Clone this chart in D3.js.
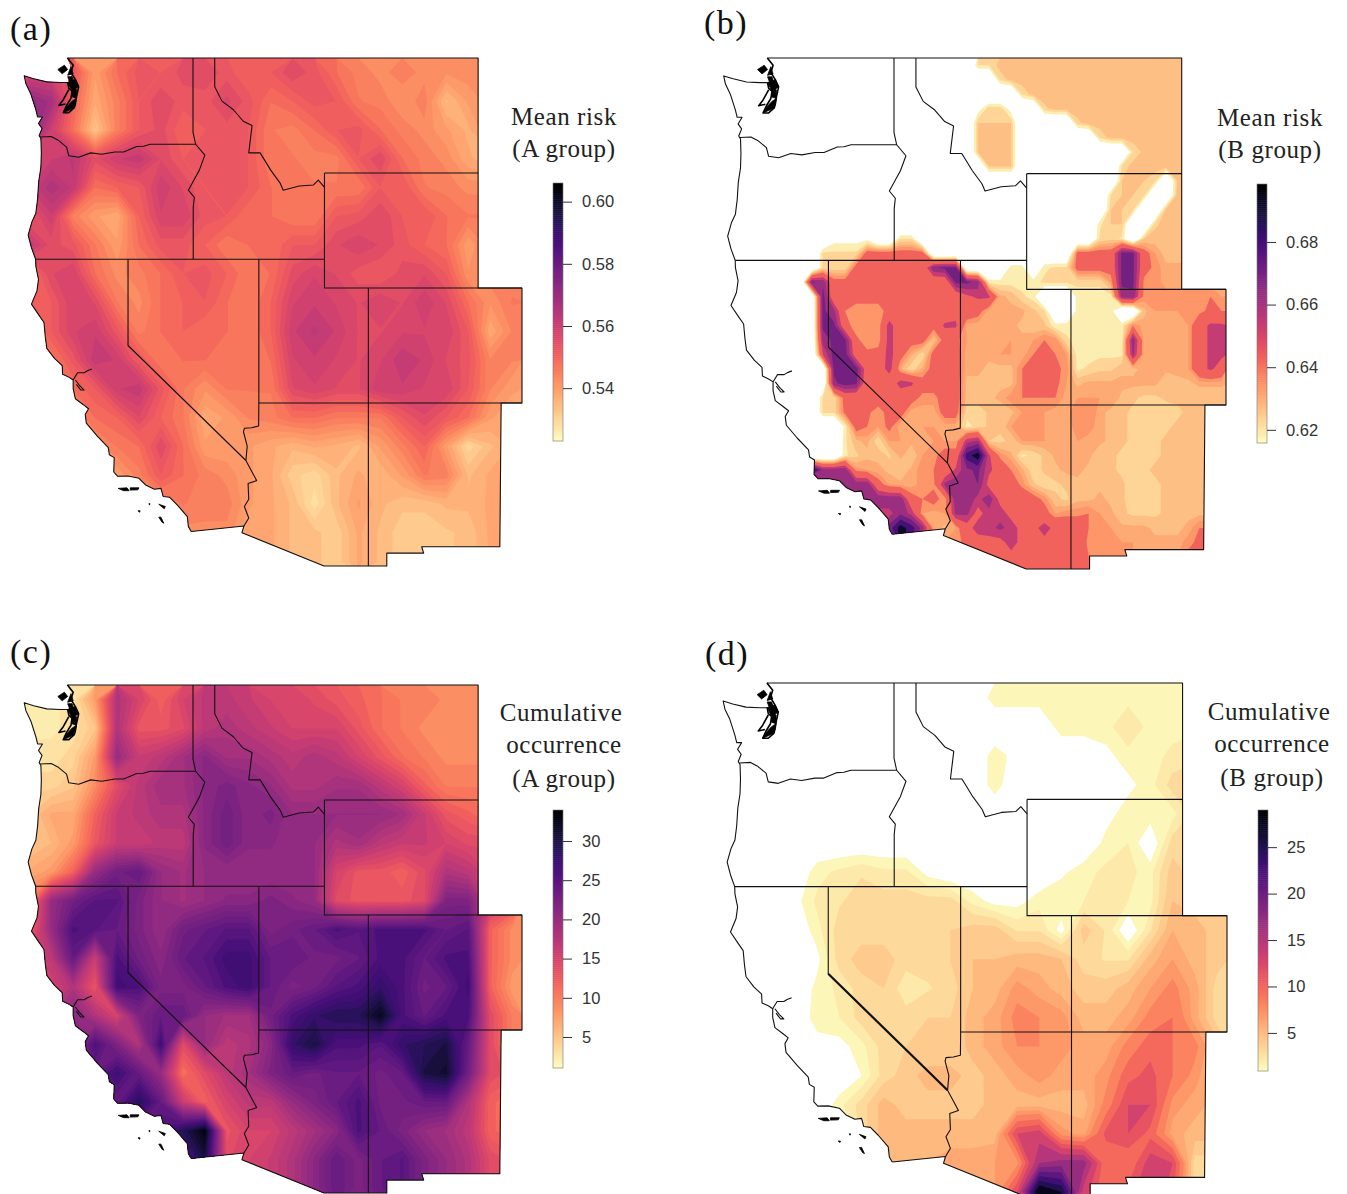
<!DOCTYPE html>
<html>
<head>
<meta charset="utf-8">
<script src="https://cdn.jsdelivr.net/npm/d3@7"></script>
<style>
  html, body { margin: 0; padding: 0; background: #fff; }
</style>
</head>
<body>
<div id="chart"></div>
<script>
// grid cell centres, one value per degree
var lons = d3.range(-124.5, -102, 1);
var lats = d3.range(48.5, 31, -1);
// half degree grid for panel (b)
var lonsFine = d3.range(-124.75, -102, 0.5);
var latsFine = d3.range(48.75, 31, -0.5);

// mean risk, A group
var riskA = [
[.558,.558,.553,.540,.548,.553,.552,.555,.556,.553,.550,.552,.556,.553,.548,.545,.543,.545,.543,.542,.543,.543,.543],
[.572,.568,.550,.538,.545,.552,.556,.553,.553,.557,.553,.548,.550,.553,.552,.546,.545,.542,.545,.535,.540,.543,.543],
[.575,.560,.548,.533,.545,.552,.555,.550,.552,.553,.552,.546,.545,.548,.552,.553,.548,.545,.543,.540,.537,.542,.542],
[.556,.560,.563,.555,.560,.562,.556,.552,.553,.553,.552,.546,.546,.545,.545,.552,.556,.548,.545,.543,.538,.536,.540],
[.560,.566,.562,.548,.550,.552,.560,.556,.552,.553,.552,.548,.546,.546,.546,.546,.552,.552,.546,.545,.543,.543,.543],
[.553,.560,.545,.540,.538,.550,.558,.558,.553,.552,.548,.548,.546,.546,.552,.553,.556,.552,.552,.548,.546,.546,.546],
[.562,.555,.553,.546,.540,.548,.553,.553,.550,.546,.548,.548,.552,.552,.556,.558,.556,.553,.550,.548,.540,.545,.545],
[.548,.556,.558,.548,.543,.545,.548,.552,.553,.550,.546,.548,.555,.558,.556,.553,.552,.555,.556,.552,.542,.545,.545],
[.550,.552,.558,.556,.546,.543,.548,.550,.552,.548,.546,.550,.558,.560,.558,.556,.558,.556,.560,.556,.548,.542,.546],
[.546,.552,.558,.560,.553,.545,.548,.550,.548,.548,.546,.550,.560,.563,.560,.556,.556,.558,.558,.558,.552,.538,.544],
[.546,.546,.553,.562,.560,.552,.546,.548,.548,.546,.546,.548,.558,.560,.558,.556,.558,.562,.560,.556,.553,.544,.544],
[.540,.545,.548,.552,.560,.562,.553,.546,.542,.546,.546,.546,.556,.558,.556,.556,.560,.560,.558,.558,.552,.544,.540],
[.540,.540,.543,.548,.550,.556,.550,.546,.538,.540,.544,.545,.548,.548,.546,.546,.546,.552,.556,.552,.548,.540,.538],
[.540,.540,.540,.543,.546,.548,.556,.548,.540,.540,.540,.538,.536,.538,.537,.535,.540,.545,.550,.540,.530,.535,.538],
[.540,.540,.540,.540,.540,.545,.552,.548,.545,.543,.540,.538,.532,.530,.535,.538,.536,.540,.546,.545,.535,.538,.538],
[.540,.540,.540,.540,.540,.540,.543,.546,.545,.545,.540,.538,.535,.528,.535,.540,.536,.534,.534,.536,.536,.538,.538],
[.540,.540,.540,.540,.540,.540,.540,.543,.543,.543,.538,.538,.535,.534,.532,.538,.535,.532,.532,.533,.534,.538,.538],
[.540,.540,.540,.540,.540,.540,.540,.543,.543,.543,.538,.538,.535,.534,.532,.538,.535,.532,.532,.533,.534,.538,.538]
];

// mean risk, B group, in thousandths, half degree. First number of a row is the
// column it starts at, anything not listed has no colour on the map (600)
var riskBRows = [
[23,621,621,627,627,627,627,627,627,627,627,627,627,627,627,627,627,627,627,627,627,627],
[25,622,627,627,627,627,627,627,627,627,627,627,627,627,627,627,627,627,627,627],
[27,622,627,627,627,627,627,627,627,627,627,627,627,627,627,627,627,627],
[23,612,624,624,612,600,600,624,627,627,627,627,627,627,627,627,627,627,627,627,627,627],
[23,625,625,625,625,600,600,600,600,600,624,627,627,627,627,627,627,627,627,627,627,627],
[23,625,625,625,625,600,600,600,600,600,600,600,622,627,627,627,627,627,627,627,627,627],
[23,625,625,625,625,600,600,600,600,600,600,600,600,600,600,622,626,626,626,626,626,626],
[24,625,625,625,600,600,600,600,600,600,600,600,600,622,627,627,627,627,627,627,627],
[36,625,625,625,622,600,625,627,627],
[35,622,625,625,622,600,600,627,627,627],
[35,625,625,622,600,600,627,627,627,627],
[34,620,625,625,600,600,624,627,627,627,627],
[10,613,613,613,613,600,600,621,621,600,600,600,600,600,600,600,600,600,600,600,600,600,600,600,600,622,624,620,600,625,627,627,627,627,627],
[9,622,622,622,622,640,640,640,640,640,640,600,600,600,600,600,600,600,600,600,600,600,600,600,640,640,640,640,668,668,640,632,627,627,627,627],
[9,622,622,622,640,640,640,640,640,640,640,665,668,668,600,600,600,600,619,619,600,620,622,622,640,640,640,640,668,668,640,634,630,630,630,630],
[8,668,664,640,640,640,640,640,640,640,640,640,640,640,668,668,664,619,619,619,619,619,622,622,622,622,622,622,632,668,668,634,634,630,630,630,630,630,630],
[9,670,640,640,640,640,640,640,640,640,640,640,640,640,648,652,652,630,628,622,619,600,600,600,619,619,619,619,662,664,634,634,634,634,634,634,636,632],
[9,668,660,636,632,632,632,640,640,640,640,640,640,646,645,640,630,630,630,630,626,622,600,600,619,619,619,619,600,600,628,632,632,632,632,634,638,636],
[9,668,668,640,632,632,632,655,640,640,640,640,652,652,630,630,630,630,630,628,626,626,618,619,620,620,620,619,619,636,630,630,630,630,632,645,652,652],
[9,662,668,668,638,632,632,655,640,640,640,626,640,638,632,632,632,630,632,630,632,636,634,622,619,619,619,619,619,664,630,630,630,630,632,645,652,652],
[9,650,670,670,642,638,640,655,640,630,622,640,640,640,630,630,630,632,632,630,636,636,636,632,619,619,620,620,620,660,630,630,630,630,632,645,652,652],
[9,600,668,670,670,642,642,655,630,622,630,640,640,640,630,630,628,628,628,636,636,636,638,634,620,622,624,624,628,628,630,630,630,630,632,645,652,645],
[10,664,670,668,640,640,640,655,652,640,640,640,640,628,628,628,628,628,636,638,638,638,632,628,630,630,630,630,630,630,630,626,628,628,630,630,630],
[9,622,622,640,640,638,642,640,640,640,634,634,640,640,628,628,628,630,634,636,636,636,636,630,632,632,632,632,628,626,624,624,626,626,626,626,626,626],
[9,622,622,638,638,638,632,640,640,630,630,630,640,640,622,622,626,626,628,632,632,632,630,630,636,636,630,628,626,624,622,622,622,624,626,626,626,626],
[11,618,640,636,632,638,630,630,632,632,630,630,620,622,626,626,632,632,632,632,630,630,634,634,630,628,626,624,622,624,624,626,626,626,626,626],
[11,620,628,630,622,632,632,630,630,632,632,632,655,660,625,624,626,632,632,632,630,630,632,630,630,628,626,624,622,624,626,628,628,628,628,628],
[11,620,624,628,628,624,630,626,632,634,640,640,680,692,652,634,630,620,622,626,630,630,630,630,626,626,624,622,622,624,626,628,628,628,628,628],
[7,690,690,664,664,664,634,632,630,628,626,630,634,636,640,652,664,668,652,645,636,630,622,626,628,630,630,628,626,626,624,624,624,626,628,628,628,628,628,628],
[9,664,664,664,664,664,640,632,630,630,634,634,660,664,664,666,646,646,642,634,626,622,624,626,628,628,628,628,626,622,622,624,626,628,628,628,628,628,628],
[11,664,664,664,664,664,640,636,640,632,664,664,655,664,646,646,644,640,634,626,624,628,628,630,628,626,622,622,624,626,628,628,628,628,628,628],
[13,655,655,664,655,632,630,632,660,660,646,655,655,646,646,644,640,632,634,634,636,632,630,626,624,624,624,626,628,628,628,628,628,628],
[14,670,690,680,662,632,628,632,645,655,655,660,655,646,646,655,646,644,644,636,634,632,630,630,630,628,628,628,630,636,636,636,636],
[15,690,680,640,632,632,632,640,644,646,646,655,646,646,646,646,646,644,634,634,632,632,632,630,630,630,630,634,638,638,638,638],
[19,632,632,640,644,646,646,646,646,646,646,646,644,640,636,636,634,634,632,630,630,630,632,638,638,638,638,638],
[19,632,632,640,644,646,646,646,646,646,646,646,644,640,636,636,634,634,632,630,630,630,632,638,638,638,638,638]
];

// cumulative occurrence, A group
var occA = [
[2.5,2.5,3,8,18,15,12,15,17,17,16,15,15,14,13,12,11,10,10,9,9,9,9],
[2.5,2.5,3,5,18,13,13,14,17,18,17,16,15,15,15,13,11,10,9,9,9,9,9],
[3,3,4,8,20,16,17,19,21,19,19,18,17,18,17,15,13,11,10,9,9,9,9],
[4,4,5,9,14,17,19,19,21,22,21,20,18,18,19,19,17,15,12,10,10,10,10],
[5,7,7,12,16,17,18,18,21,23,21,22,20,20,20,20,20,19,16,13,12,11,11],
[5,6,8,13,16,16,17,17,21,23,21,21,20,20,18,19,17,16,16,15,14,14,14],
[7,8,12,20,23,24,20,19,20,20,20,20,20,20,15,13,13,12,14,18,17,15,15],
[10,20,23,25,25,22,20,19,20,21,21,22,21,20,14,13,13,13,14,22,22,16,14],
[12,20,26,25,24,22,20,23,24,25,25,22,23,24,26,25,26,26,26,24,25,12,9],
[15,17,24,16,26,23,21,24,25,27,27,24,24,23,23,24,26,26,24,26,26,12,9],
[17,15,18,13,27,26,22,22,24,26,27,24,22,23,25,26,28,26,23,24,27,12,8],
[17,18,21,18,15,22,24,24,20,19,19,23,26,28,29,29,32,26,24,26,26,14,10],
[18,18,20,26,22,18,27,14,20,17,18,21,28,30,26,26,25,28,29,30,24,14,10],
[20,20,20,24,27,24,20,11,14,17,19,22,24,23,24,24,23,24,30,31,23,14,13],
[20,20,20,20,24,29,24,16,12,15,17,17,20,22,24,26,23,23,24,24,18,12,11],
[20,20,20,20,20,24,26,29,33,13,15,15,17,19,21,26,24,22,20,19,17,12,11],
[20,20,20,20,20,24,25,25,30,14,15,16,18,21,24,22,24,25,22,20,18,14,13],
[20,20,20,20,20,24,25,25,30,14,15,16,18,21,24,22,24,25,22,20,18,14,13]
];

// cumulative occurrence, B group (0 = no colour on the map)
var occB = [
[0,0,0,0,0,0,0,0,0,0,0,0,1.5,1.5,1.5,1.5,1.5,1.5,1.5,1.5,1.5,1.5,1.5],
[0,0,0,0,0,0,0,0,0,0,0,0,0,0,0,1.5,1.5,1.5,2.5,1.5,1.5,1.5,1.5],
[0,0,0,0,0,0,0,0,0,0,0,0,1.5,.6,0,0,0,.7,1.5,1.5,2,2.5,2.5],
[0,0,0,0,0,0,0,0,0,0,0,0,1.5,0,0,0,0,0,.7,1.5,3,3,3],
[0,0,0,0,0,0,0,0,0,0,0,0,0,0,0,0,0,.6,1.5,1.5,1.5,3,3],
[0,0,0,0,0,0,0,0,0,0,0,0,0,0,0,0,0,1.3,1.8,0,3,3,3],
[0,0,0,0,1.5,2,2.5,2,2,.6,0,0,0,0,0,.8,1.5,2,2,1.5,4,3,3],
[0,0,0,.6,2,2.5,3,3,3,3,3,1.5,.6,.6,1.5,1.7,1.8,2,1.8,1.5,4.5,4,4],
[0,0,0,0,1.5,3,3,3,3,3,3.5,4,4,2.5,2.5,.6,4,2.5,0,2.5,5.5,5,4],
[0,0,0,0,.7,3,4,4,3,3,3.5,4.5,4.5,5,5,4.5,3,2.5,2.5,5,6.5,5,4],
[0,0,0,0,1.3,2,3,3.5,2,2.5,3,4.5,5,7,6,5,4,4,5,6.5,8,6,3],
[0,0,0,0,1.5,1.8,3,3,3,3.5,3.5,5,6,8,7.5,7,5,5,6,8,9,6,3],
[0,0,0,0,.5,.6,1.5,3,3.5,3.5,3.5,5,6,7.5,7.5,7,6,6,8,10,9,8,5],
[0,0,0,0,0,0,1,3,4,5,5,4,5,6,7,6,6,7,10,11,9,7,5],
[0,0,0,0,0,1.5,3,5,4,4,4,4,5,5,5,5,5,8,12,12,7,6,5],
[0,0,0,0,0,0,3,5,5,5,5,5,5,12,13,7,6,11,12,10,6,5,5],
[0,0,0,0,0,0,4,5,5.5,5.5,6,6,6.5,7,16,17,17,9,9,13,12,3,3],
[0,0,0,0,0,0,4,5,5.5,5.5,6,6,6.5,12,29,26,13,9,11,14,11,3,3]
];

// legend ticks
var ticksRiskA = [0.54, 0.56, 0.58, 0.60];
var ticksRiskB = [0.62, 0.64, 0.66, 0.68];
var ticksOccA = [5, 10, 15, 20, 25, 30];
var ticksOccB = [5, 10, 15, 20, 25];

// colour steps on the map
var levelsRiskB = [.6158,.621,.625,.629,.632,.636,.650,.658,.666,.675,.685,.6985];
var levelsOccB = [1,1.8,2.6,3.5,4.5,5.5,6.5,7.5,9,10.5,12,14,16,18,20,22,24,26,29];

// coast, north to south, lon/lat
var coast = [
[-122.75,48.15],[-123.1,48.15],[-123.7,48.17],[-124.3,48.28],[-124.73,48.38],[-124.65,48.1],[-124.43,47.75],[-124.2,47.2],[-124.12,46.95],
[-123.9,46.95],[-124.08,46.72],[-123.92,46.55],[-124.05,46.3],[-123.97,46.2],[-123.95,45.7],[-123.97,45.2],[-124.07,44.7],[-124.12,44.1],
[-124.2,43.6],[-124.38,43.3],[-124.55,42.84],[-124.4,42.4],[-124.21,42],[-124.2,41.75],[-124.08,41.3],[-124.15,40.9],[-124.4,40.44],
[-124.1,40.1],[-123.83,39.8],[-123.77,39.3],[-123.7,38.9],[-123.35,38.55],[-123,38.3],[-122.98,38],[-122.7,37.9],[-122.5,37.8],[-122.5,37.5],
[-122.4,37.15],[-122.05,36.95],[-121.8,36.8],[-121.95,36.6],[-121.9,36.3],[-121.4,35.85],[-120.9,35.45],[-120.85,35.2],[-120.63,35.1],
[-120.65,34.6],[-120.47,34.45],[-120,34.46],[-119.5,34.38],[-119.2,34.15],[-118.8,34],[-118.5,34.03],[-118.4,33.75],[-118.1,33.72],
[-117.75,33.45],[-117.3,33.05],[-117.25,32.7],[-117.12,32.53]
];
// outer edge of the region, going east from the coast at 49N
var eastEdge = [
[-122.5,48.5],[-122.76,49],[-104.05,49],[-104.05,41],[-102.05,41],[-102.05,37],[-103,37],[-103.06,32],[-106.62,32],[-106.53,31.78],
[-108.21,31.78],[-108.21,31.33],[-111.07,31.33],[-114.81,32.49],[-114.72,32.72],[-117.12,32.53]
];
var columbia = [[-116.92,46],[-118.98,46],[-119.3,45.93],[-119.6,45.92],[-120.2,45.73],[-120.6,45.73],[-121.2,45.65],[-121.7,45.7],[-122.25,45.55],[-122.7,45.6],[-122.8,45.9],[-123.2,46.15],[-123.5,46.27],[-124,46.25]];
var snake = [[-117.04,49],[-117.04,46.42],[-116.92,46],[-116.5,45.62],[-116.75,45.1],[-117.25,44.4],[-116.98,44.15],[-117.03,43.8],[-117.03,42]];
var bitterroot = [[-116.05,49],[-116.05,48],[-115.72,47.5],[-115.2,47.2],[-114.75,46.8],[-114.35,46.65],[-114.5,45.7],[-113.98,45.7],[-113.5,45.1],[-113.07,44.65],[-112.93,44.4],[-112.2,44.55],[-111.56,44.58],[-111.33,44.75],[-111.05,44.5]];
var colorado = [[-114.72,32.72],[-114.5,33],[-114.7,33.4],[-114.5,33.65],[-114.53,34.2],[-114.14,34.3],[-114.35,34.6],[-114.63,35],[-114.57,35.5],[-114.74,36],[-114.7,36.12],[-114.37,36.14],[-114.05,36.2],[-114.04,37]];
var nevadaWest = [[-120,42],[-120,39],[-114.63,35]];
var straightLines = [
[[-124.21,42],[-111.05,42]],
[[-114.04,42],[-114.04,37]],
[[-114.04,37],[-102.05,37]],
[[-111.05,45],[-104.05,45]],
[[-111.05,45],[-111.05,41],[-102.05,41]],
[[-109.05,41],[-109.05,31.33]]
];
var puget = [
[[-122.76,49],[-122.5,48.75],[-122.6,48.5],[-122.4,48.25],[-122.25,48],[-122.35,47.65],[-122.4,47.4],[-122.45,47.27],[-122.7,47.1],[-122.95,47.1],[-122.8,47.35],[-122.6,47.6],[-122.55,47.85],[-122.7,47.95],[-122.75,48.15]],
[[-122.7,47.9],[-122.95,47.55],[-123.15,47.35],[-122.85,47.4]]
];
var pugetBlobs = [
[[-123.2,48.6],[-122.9,48.75],[-122.75,48.6],[-123,48.45]],
[[-122.75,48.35],[-122.55,48.35],[-122.4,48],[-122.55,47.95]],
[[-122.6,48.7],[-122.75,48.4],[-122.5,48.45]],
[[-122.95,47.1],[-122.45,47.27],[-122.35,47.6],[-122.55,47.5],[-122.8,47.3]],
[[-122.55,47.95],[-122.35,47.9],[-122.35,47.6],[-122.55,47.65]],
[[-122.75,48.15],[-122.4,48.25],[-122.25,48],[-122.55,47.85]]
];
var bay = [
[[-122.5,37.8],[-122.42,37.9],[-122.3,38.05],[-122,38.05],[-121.85,38.12],[-121.65,38.18]],
[[-122.4,37.8],[-122.2,37.6],[-122,37.45],[-122.15,37.45],[-122.35,37.65]]
];
var islands = [
[[-120.45,34.03],[-120.05,34.05],[-119.95,33.95],[-120.2,33.95]],
[[-119.9,34.05],[-119.5,34.05],[-119.55,33.98],[-119.9,33.97]],
[[-118.6,33.48],[-118.3,33.4],[-118.35,33.32]],
[[-118.6,33.03],[-118.45,32.85],[-118.37,32.82],[-118.5,33.03]],
[[-119.55,33.25],[-119.45,33.25],[-119.47,33.2]],
[[-119.05,33.5],[-119,33.5],[-119.02,33.45]]
];

// fill the short rows of panel (b)
var riskB = riskBRows.map(function(row) {
  var full = lonsFine.map(function() { return 600; });
  row.slice(1).forEach(function(v, k) { full[row[0] + k] = v; });
  return full.map(function(v) { return v / 1000; });
});

var magma = function(t) { return d3.interpolateMagma(1 - t); };
function evenLevels(dom, n) {
  return d3.range(0, n + 1).map(function(k) { return dom[0] + (dom[1] - dom[0]) * k / n; });
}

// placement of each panel on the page
var panels = [
  { label: "(a)", lx: 10, ly: 40, grid: riskA, glon: lons, glat: lats, dom: [.523, .606], levels: evenLevels([.523, .606], 40), ticks: ticksRiskA, fmt: d3.format(".2f"),
    x: [193, 522], y: [58, 403], lb: [553, 183, 441], title: [["Mean risk", 564, 125], ["(A group)", 564, 157]] },
  { label: "(b)", lx: 704, ly: 34, grid: riskB, glon: lonsFine, glat: latsFine, dom: [.6158, .6985], levels: levelsRiskB, ticks: ticksRiskB, fmt: d3.format(".2f"),
    x: [894, 1226], y: [58, 405], lb: [1257, 184, 443], title: [["Mean risk", 1270, 126], ["(B group)", 1270, 158]] },
  { label: "(c)", lx: 10, ly: 663, grid: occA, glon: lons, glat: lats, dom: [1.05, 33.95], levels: evenLevels([1.05, 33.95], 40), ticks: ticksOccA, fmt: d3.format("d"),
    x: [193, 522], y: [685, 1030], lb: [553, 810, 1068], title: [["Cumulative", 561, 721], ["occurrence", 564, 753], ["(A group)", 564, 787]] },
  { label: "(d)", lx: 705, ly: 665, grid: occB, glon: lons, glat: lats, dom: [.9, 29], levels: levelsOccB, ticks: ticksOccB, fmt: d3.format("d"),
    x: [894, 1227], y: [683, 1032], lb: [1258, 810, 1071], title: [["Cumulative", 1269, 720], ["occurrence", 1272, 752], ["(B group)", 1272, 786]],
    thickNevada: true }
];

var svg = d3.select("#chart").append("svg")
    .attr("width", 1347)
    .attr("height", 1194)
    .style("display", "block");

panels.forEach(function(p, i) {
  // lon/lat to page, pinned on the state corners
  var x = d3.scaleLinear().domain([-117.04, -102.05]).range(p.x);
  var y = d3.scaleLinear().domain([49, 37]).range(p.y);
  var line = d3.line().x(function(d) { return x(d[0]); }).y(function(d) { return y(d[1]); });

  var land = eastEdge.concat(coast.slice().reverse());
  svg.append("clipPath").attr("id", "land" + i)
    .append("path").attr("d", line(land) + "Z");

  // filled bands of the gridded values
  var flat = d3.merge(p.grid);
  var color = d3.scaleSequential(magma).domain(p.dom);
  var contours = d3.contours().size([p.glon.length, p.glat.length]).thresholds(p.levels.slice(0, -1))(flat);
  var cell = Math.abs(p.glon[1] - p.glon[0]);
  var toPage = d3.geoTransform({
    point: function(gx, gy) {
      this.stream.point(x(p.glon[0] - cell / 2 + gx * cell), y(p.glat[0] + cell / 2 - gy * cell));
    }
  });
  svg.append("g").attr("clip-path", "url(#land" + i + ")")
    .selectAll("path").data(contours).join("path")
    .attr("d", d3.geoPath(toPage))
    .attr("fill", function(d, k) { return color((p.levels[k] + p.levels[k + 1]) / 2); });

  // outlines
  var lines = svg.append("g").attr("fill", "none").attr("stroke", "#111").attr("stroke-width", 1.1)
    .attr("stroke-linejoin", "round");
  var all = [coast, eastEdge.slice(1), columbia, snake, bitterroot, colorado, nevadaWest].concat(straightLines);
  lines.selectAll("path.o").data(all).join("path").attr("class", "o").attr("d", line);
  lines.selectAll("path.b").data(bay).join("path").attr("class", "b").attr("d", line);
  lines.selectAll("path.p").data(puget).join("path").attr("class", "p").attr("d", line)
    .attr("stroke", "#000").attr("stroke-width", 1.6);
  if (p.thickNevada) lines.append("path").attr("d", line(nevadaWest.slice(1))).attr("stroke-width", 2.2);
  svg.append("g").selectAll("path").data(pugetBlobs.concat(islands)).join("path")
    .attr("d", function(d) { return line(d) + "Z"; })
    .attr("fill", "#000").attr("stroke", "#000").attr("stroke-width", 0.8);

  // panel label and legend title
  svg.append("text").attr("x", p.lx).attr("y", p.ly)
    .style("font", "34px 'Liberation Serif'").style("letter-spacing", "1.5px").attr("fill", "#111").text(p.label);
  svg.append("g").selectAll("text").data(p.title).join("text")
    .attr("x", function(d) { return d[1]; }).attr("y", function(d) { return d[2]; })
    .attr("text-anchor", "middle")
    .style("font", "25px 'Liberation Serif'").style("letter-spacing", "0.6px").attr("fill", "#222")
    .text(function(d) { return d[0]; });

  // colour bar
  var bar = d3.scaleLinear().domain(p.dom).range([p.lb[2], p.lb[1]]);
  var barG = svg.append("g");
  barG.selectAll("rect").data(d3.range(0, 128)).join("rect")
    .attr("x", p.lb[0]).attr("width", 10)
    .attr("y", function(k) { return bar(p.dom[0] + (p.dom[1] - p.dom[0]) * (k + 1) / 128); })
    .attr("height", (p.lb[2] - p.lb[1]) / 128 + 0.5)
    .attr("fill", function(k) { return color(p.dom[0] + (p.dom[1] - p.dom[0]) * (k + .5) / 128); });
  barG.append("rect").attr("x", p.lb[0]).attr("y", p.lb[1]).attr("width", 10).attr("height", p.lb[2] - p.lb[1])
    .attr("fill", "none").attr("stroke", "#777").attr("stroke-width", 0.6);
  var axis = svg.append("g").attr("transform", "translate(" + (p.lb[0] + 10) + ",0)")
    .call(d3.axisRight(bar).tickValues(p.ticks).tickFormat(p.fmt).tickSize(9).tickPadding(10));
  axis.select(".domain").remove();
  axis.selectAll("line").attr("stroke", "#333");
  axis.selectAll("text").attr("fill", "#333").style("font", "16.5px 'Liberation Sans'");
});
</script>
</body>
</html>
